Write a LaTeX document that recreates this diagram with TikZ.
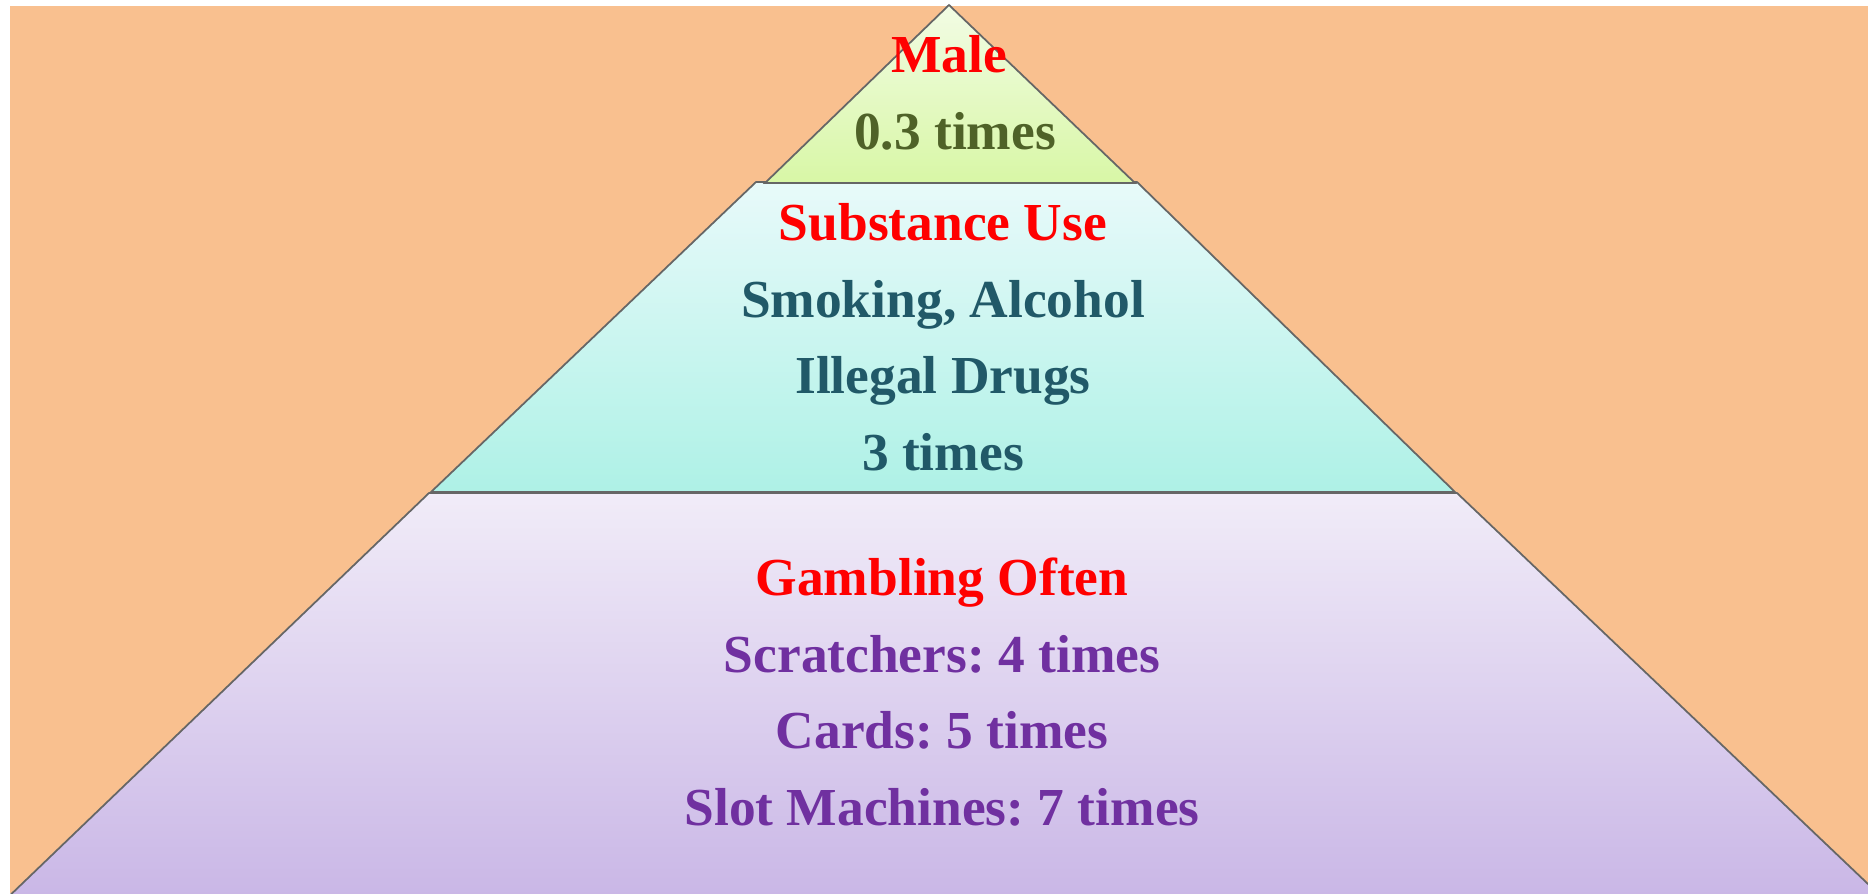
\documentclass[tikz,border=0pt]{standalone}
\usepackage{xcolor}
\usepackage{fontspec}
\setmainfont{Liberation Serif}
\usepackage{tikz}
\frenchspacing

\definecolor{peach}{HTML}{F9C08F}
\definecolor{limetop}{HTML}{F2FCE4}
\definecolor{limebot}{HTML}{D8F7A6}
\definecolor{aquatop}{HTML}{E8FAFA}
\definecolor{aquabot}{HTML}{AEF1E6}
\definecolor{lilactop}{HTML}{F1ECF8}
\definecolor{lilacbot}{HTML}{C9B6E6}
\definecolor{olive}{HTML}{4F6228}
\definecolor{teal}{HTML}{215968}
\definecolor{grape}{HTML}{7030A0}

\begin{document}
\begin{tikzpicture}[x=0.01cm, y=-0.01cm,
  tier/.style={draw=black!60, line width=0.5pt},
  lbl/.style={anchor=base, inner sep=0pt, font=\fontsize{15.2}{21.8}\selectfont\bfseries}]

\useasboundingbox (0,0) rectangle (1868,893);
\clip (0,0) rectangle (1868,893);

% Draw the background
\fill[peach] (10,6) rectangle (1868,893);

% Draw the three tiers
\shade[tier, top color=lilactop, bottom color=lilacbot] (429,493) -- (1457,493) -- (1888,903) -- (2,903) -- cycle;
\shade[tier, top color=aquatop, bottom color=aquabot] (756,182) -- (1137,182) -- (1455,492) -- (431,492) -- cycle;
\shade[tier, top color=limetop, bottom color=limebot] (949,5) -- (1135,183) -- (765,183) -- cycle;

% Top tier labels
\node[lbl, red] (male) at (949,72) {Male};
\node[lbl, olive] (malex) at (955,149) {0.3 times};

% Middle tier labels
\node[lbl, red] (subst) at (943,240) {Substance Use};
\node[lbl, teal] (smoke) at (943,317) {Smoking, Alcohol};
\node[lbl, teal] (drugs) at (943,393) {Illegal Drugs};
\node[lbl, teal] (substx) at (943,470) {3 times};

% Bottom tier labels
\node[lbl, red] (gamb) at (942,595) {Gambling Often};
\node[lbl, grape] (scratch) at (942,672) {Scratchers: 4 times};
\node[lbl, grape] (cards) at (942,748) {Cards: 5 times};
\node[lbl, grape] (slots) at (942,825) {Slot Machines: 7 times};

\end{tikzpicture}
\end{document}
